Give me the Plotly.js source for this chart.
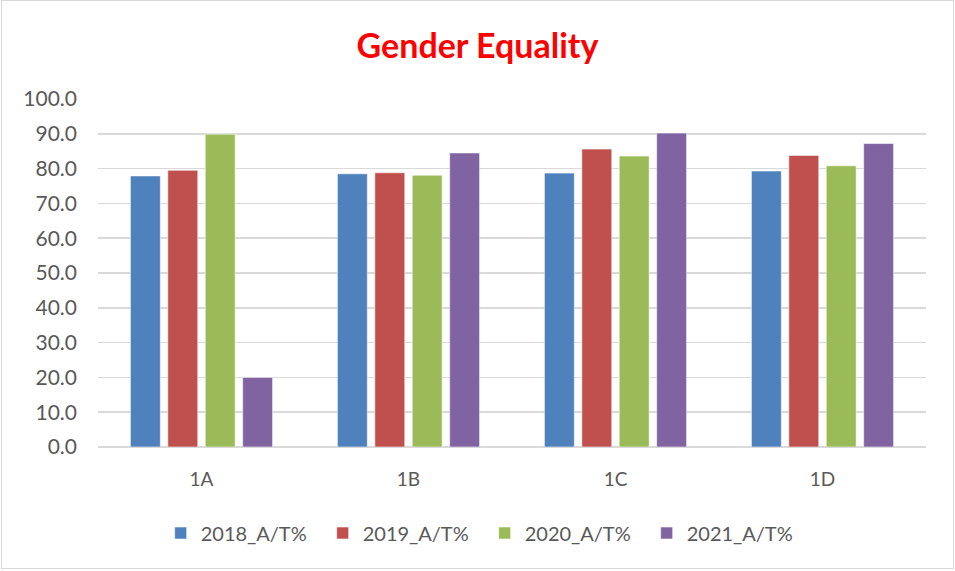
<!DOCTYPE html>
<html>
<head>
<meta charset="utf-8">
<script src="https://cdn.plot.ly/plotly-3.0.1.min.js"></script>
<style>
html,body{margin:0;padding:0;background:#fff;}
#chart{width:955px;height:571px;}
#frame{position:absolute;left:1px;top:0px;width:951px;height:567px;border:1.5px solid #d9d9d9;pointer-events:none;}
</style>
</head>
<body>
<div id="chart"></div>
<div id="frame"></div>
<script>
const categories = ["1A", "1B", "1C", "1D"];
const seriesNames = ["2018_A/T%", "2019_A/T%", "2020_A/T%", "2021_A/T%"];
const values2018 = [77.9, 78.5, 78.7, 79.3];
const values2019 = [79.5, 78.8, 85.6, 83.8];
const values2020 = [89.9, 78.1, 83.6, 80.8];
const values2021 = [20.0, 84.5, 90.2, 87.2];
const colors = ["#4F81BD", "#C0504D", "#9BBB59", "#8064A2"];
const yTicks = [0, 10, 20, 30, 40, 50, 60, 70, 80, 90, 100];

const allValues = [values2018, values2019, values2020, values2021];
const traces = allValues.map((vals, i) => ({
  type: "bar",
  name: seriesNames[i],
  x: categories,
  y: vals,
  marker: {color: colors[i], line: {color: "rgba(255,255,255,0.55)", width: 1}},
  hoverinfo: "x+y+name"
}));

const font = "Lato, 'Open Sans', sans-serif";
const layout = {
  width: 955,
  height: 571,
  margin: {l: 98, r: 29, t: 99, b: 124},
  paper_bgcolor: "#ffffff",
  plot_bgcolor: "#ffffff",
  title: {
    text: "<b>Gender Equality</b>",
    font: {family: font, size: 34, color: "#FF0000"},
    x: 0.5, xref: "container", xanchor: "center",
    y: 1 - 46/571, yref: "container", yanchor: "middle"
  },
  barmode: "group",
  bargap: 0.277,
  bargroupgap: 0.2,
  xaxis: {
    showgrid: false,
    showline: false,
    zeroline: false,
    ticks: "",
    ticklabelstandoff: 19,
    tickfont: {family: font, size: 19, color: "#595959"},
    automargin: false
  },
  yaxis: {
    range: [0, 100],
    tickvals: yTicks,
    ticktext: yTicks.map(v => v.toFixed(1)),
    showgrid: true,
    gridcolor: "#d9d9d9",
    gridwidth: 1.5,
    zeroline: true,
    zerolinecolor: "#d9d9d9",
    zerolinewidth: 1.5,
    showline: false,
    ticks: "",
    ticklabelstandoff: 20,
    tickfont: {family: font, size: 21, color: "#595959"},
    fixedrange: true,
    automargin: false
  },
  legend: {
    orientation: "h",
    x: 0.467, xanchor: "center",
    y: -86/348, yanchor: "middle",
    font: {family: font, size: 20, color: "#595959"},
    itemwidth: 30,
    entrywidth: 117,
    entrywidthmode: "pixels",
    traceorder: "normal"
  },
  showlegend: true
};

Plotly.newPlot("chart", traces, layout, {displayModeBar: false, staticPlot: true});
</script>
</body>
</html>
